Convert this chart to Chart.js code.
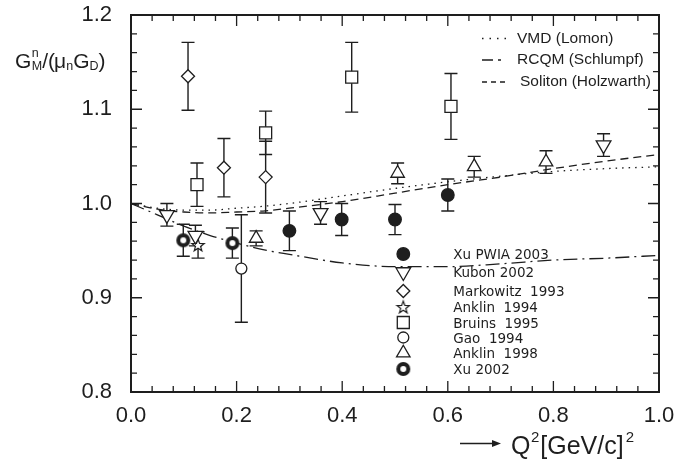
<!DOCTYPE html>
<html>
<head>
<meta charset="utf-8">
<script src="https://cdn.jsdelivr.net/npm/chart.js@4.4.1/dist/chart.umd.min.js"></script>
<style>
  html, body { margin: 0; padding: 0; background: #fff; }
</style>
</head>
<body>
<canvas id="gmnChart" width="693" height="470"></canvas>
<script>
// measured data points: Q^2, value, error
const xuPwiaQ2 = [0.300, 0.399, 0.500, 0.600];
const xuPwiaVal = [0.971, 0.983, 0.983, 1.009];
const xuPwiaErr = [0.021, 0.017, 0.016, 0.017];

const kubonQ2 = [0.068, 0.122, 0.359, 0.895];
const kubonVal = [0.988, 0.966, 0.990, 1.062];
const kubonErr = [0.012, 0.011, 0.012, 0.012];

const markowitzQ2 = [0.108, 0.176, 0.255];
const markowitzVal = [1.135, 1.038, 1.028];
const markowitzErr = [0.036, 0.031, 0.038];

const anklin94Q2 = [0.127];
const anklin94Val = [0.956];
const anklin94Err = [0.014];

const bruinsQ2 = [0.125, 0.255, 0.418, 0.606];
const bruinsVal = [1.020, 1.075, 1.134, 1.103];
const bruinsErr = [0.023, 0.023, 0.037, 0.035];

const gaoQ2 = [0.209];
const gaoVal = [0.931];
const gaoErr = [0.057];

const anklin98Q2 = [0.237, 0.505, 0.650, 0.786];
const anklin98Val = [0.963, 1.032, 1.039, 1.044];
const anklin98Err = [0.008, 0.011, 0.011, 0.012];

const xu02Q2 = [0.099, 0.192];
const xu02Val = [0.961, 0.958];
const xu02Err = [0.017, 0.016];

// theory curves
const curveQ2 = [0, 0.05, 0.1, 0.15, 0.2, 0.25, 0.3, 0.4, 0.5, 0.6, 0.7, 0.8, 0.9, 1.0];
const vmdVal = [1.000, 0.995, 0.993, 0.993, 0.995, 0.997, 1.000, 1.008, 1.016, 1.023, 1.029, 1.034, 1.037, 1.039];
const rcqmVal = [1.000, 0.988, 0.976, 0.966, 0.958, 0.951, 0.946, 0.937, 0.933, 0.933, 0.936, 0.940, 0.942, 0.945];
const solitonVal = [1.000, 0.994, 0.991, 0.990, 0.991, 0.992, 0.995, 1.002, 1.011, 1.020, 1.028, 1.037, 1.045, 1.052];

const xTicks = [0, 0.2, 0.4, 0.6, 0.8, 1.0];
const yTicks = [0.8, 0.9, 1.0, 1.1, 1.2];

const theoryLabels = ["VMD (Lomon)", "RCQM (Schlumpf)", "Soliton (Holzwarth)"];
const dataLabels = ["Xu PWIA 2003", "Kubon 2002", "Markowitz  1993", "Anklin  1994",
  "Bruins  1995", "Gao  1994", "Anklin  1998", "Xu 2002"];

const INK = "#1e1e1e";

function makeStar() {
  const c = document.createElement("canvas");
  c.width = 16; c.height = 16;
  const g = c.getContext("2d");
  g.beginPath();
  for (let k = 0; k < 10; k++) {
    const r = k % 2 === 0 ? 6.5 : 2.7;
    const a = -Math.PI / 2 + k * Math.PI / 5;
    const px = 8 + r * Math.cos(a), py = 8.6 + r * Math.sin(a);
    if (k === 0) g.moveTo(px, py); else g.lineTo(px, py);
  }
  g.closePath();
  g.fillStyle = "#fff"; g.fill();
  g.lineWidth = 1.2; g.strokeStyle = INK; g.stroke();
  return c;
}

function makeRing() {
  const c = document.createElement("canvas");
  c.width = 16; c.height = 16;
  const g = c.getContext("2d");
  g.beginPath(); g.arc(8, 8, 7, 0, 2 * Math.PI); g.fillStyle = INK; g.fill();
  g.beginPath(); g.arc(8, 8, 3, 0, 2 * Math.PI); g.fillStyle = "#fff"; g.fill();
  return c;
}

const starImg = makeStar();
const ringImg = makeRing();

function pts(xs, ys) {
  return xs.map((x, i) => ({ x: x, y: ys[i] }));
}

const series = [
  { label: dataLabels[0], q2: xuPwiaQ2, val: xuPwiaVal, err: xuPwiaErr, style: "circle", radius: 6.3, fill: INK },
  { label: dataLabels[1], q2: kubonQ2, val: kubonVal, err: kubonErr, style: "triangle", rotation: 180, radius: 8.5, fill: "#fff" },
  { label: dataLabels[2], q2: markowitzQ2, val: markowitzVal, err: markowitzErr, style: "rectRot", radius: 6.5, fill: "#fff" },
  { label: dataLabels[3], q2: anklin94Q2, val: anklin94Val, err: anklin94Err, style: starImg, radius: 7, fill: "#fff" },
  { label: dataLabels[4], q2: bruinsQ2, val: bruinsVal, err: bruinsErr, style: "rect", radius: 8.5, fill: "#fff" },
  { label: dataLabels[5], q2: gaoQ2, val: gaoVal, err: gaoErr, style: "circle", radius: 5.5, fill: "#fff" },
  { label: dataLabels[6], q2: anklin98Q2, val: anklin98Val, err: anklin98Err, style: "triangle", radius: 7.8, fill: "#fff" },
  { label: dataLabels[7], q2: xu02Q2, val: xu02Val, err: xu02Err, style: ringImg, radius: 7, fill: INK }
];

const theory = [
  { label: theoryLabels[0], val: vmdVal, dash: [1.5, 5] },
  { label: theoryLabels[1], val: rcqmVal, dash: [14, 5, 2, 5] },
  { label: theoryLabels[2], val: solitonVal, dash: [8, 5] }
];

const datasets = [];
series.forEach(s => {
  datasets.push({
    label: s.label,
    data: pts(s.q2, s.val),
    showLine: false,
    pointStyle: s.style,
    rotation: s.rotation || 0,
    pointRadius: s.radius,
    pointBackgroundColor: s.fill,
    pointBorderColor: INK,
    pointBorderWidth: 1.3,
    order: 1
  });
});
theory.forEach(t => {
  datasets.push({
    label: t.label,
    data: pts(curveQ2, t.val),
    showLine: true,
    borderColor: INK,
    borderWidth: 1.3,
    borderDash: t.dash,
    cubicInterpolationMode: "monotone",
    pointRadius: 0,
    fill: false,
    order: 5
  });
});

function drawRich(ctx, parts, x, base) {
  parts.forEach(p => {
    ctx.font = p.font;
    ctx.fillText(p.t, x, base + (p.dy || 0));
    if (!p.stack) x += ctx.measureText(p.t).width + (p.gap || 0);
  });
  return x;
}

const decor = {
  id: "decor",
  beforeDatasetsDraw(chart) {
    const { ctx, scales: { x, y } } = chart;
    ctx.save();
    ctx.strokeStyle = INK;
    ctx.lineWidth = 1.4;
    series.forEach(s => {
      s.q2.forEach((q, i) => {
        const px = x.getPixelForValue(q);
        const top = y.getPixelForValue(s.val[i] + s.err[i]);
        const bot = y.getPixelForValue(s.val[i] - s.err[i]);
        ctx.beginPath();
        ctx.moveTo(px, top); ctx.lineTo(px, bot);
        ctx.moveTo(px - 6.5, top); ctx.lineTo(px + 6.5, top);
        ctx.moveTo(px - 6.5, bot); ctx.lineTo(px + 6.5, bot);
        ctx.stroke();
      });
    });
    ctx.restore();
  },
  afterDraw(chart) {
    const { ctx, chartArea: a, scales: { x, y } } = chart;
    ctx.save();
    ctx.strokeStyle = INK;
    ctx.fillStyle = INK;

    // frame
    ctx.lineWidth = 2;
    ctx.strokeRect(a.left, a.top, a.right - a.left, a.bottom - a.top);

    // inward ticks on all sides
    ctx.lineWidth = 1.3;
    ctx.beginPath();
    for (let k = 0; k <= 20; k++) {
      const py = y.getPixelForValue(0.8 + k * 0.02);
      const len = k % 5 === 0 ? 11 : 6;
      ctx.moveTo(a.left, py); ctx.lineTo(a.left + len, py);
      ctx.moveTo(a.right, py); ctx.lineTo(a.right - len, py);
    }
    for (let k = 0; k <= 25; k++) {
      const px = x.getPixelForValue(k * 0.04);
      const len = k % 5 === 0 ? 11 : 6;
      ctx.moveTo(px, a.bottom); ctx.lineTo(px, a.bottom - len);
      ctx.moveTo(px, a.top); ctx.lineTo(px, a.top + len);
    }
    ctx.stroke();

    // y axis title
    ctx.textBaseline = "alphabetic";
    ctx.textAlign = "left";
    const big = "21px 'Liberation Sans'";
    const sm = "12.5px 'Liberation Sans'";
    drawRich(ctx, [
      { t: "G", font: big, gap: 0.5 },
      { t: "n", font: sm, dy: -11, stack: true },
      { t: "M", font: sm, dy: 2 },
      { t: "/(", font: big, gap: -1 },
      { t: "\u03bc", font: big },
      { t: "n", font: sm, dy: 2 },
      { t: "G", font: big },
      { t: "D", font: sm, dy: 2 },
      { t: ")", font: big }
    ], 15, 68);

    // x axis title with arrow
    ctx.lineWidth = 1.3;
    ctx.beginPath();
    ctx.moveTo(460, 443.5); ctx.lineTo(496, 443.5);
    ctx.stroke();
    ctx.beginPath();
    ctx.moveTo(501, 443.5); ctx.lineTo(492, 440); ctx.lineTo(492, 447); ctx.closePath();
    ctx.fill();
    const xt = "25px 'Liberation Sans'";
    const xs = "15px 'Liberation Sans'";
    drawRich(ctx, [
      { t: "Q", font: xt, gap: 0.5 },
      { t: "2", font: xs, dy: -12, gap: 1 },
      { t: "[GeV/c]", font: xt, gap: 2 },
      { t: "2", font: xs, dy: -12 }
    ], 511, 454);

    // theory legend (top right)
    ctx.font = "15.5px 'Liberation Sans'";
    ctx.textBaseline = "middle";
    const rowsT = [38.5, 60, 82];
    const textX = [517, 517, 520];
    theory.forEach((t, i) => {
      ctx.save();
      ctx.lineWidth = 1.3;
      ctx.setLineDash(i === 1 ? [11, 5, 3, 5] : (i === 0 ? [1.5, 6] : [5, 4]));
      ctx.beginPath();
      ctx.moveTo(482, rowsT[i]); ctx.lineTo(506, rowsT[i]);
      ctx.stroke();
      ctx.restore();
      ctx.fillText(t.label, textX[i], rowsT[i]);
    });

    // data legend (inside plot)
    const rowsD = [254, 272, 291, 307, 322.5, 337.5, 353, 369];
    const mx = 403.3;
    series.forEach((s, i) => {
      ctx.save();
      ctx.fillStyle = s.fill;
      ctx.strokeStyle = INK;
      ctx.lineWidth = 1.3;
      Chart.helpers.drawPoint(ctx, {
        pointStyle: s.style,
        rotation: s.rotation || 0,
        radius: s.radius,
        borderWidth: 1.3
      }, mx, rowsD[i]);
      ctx.restore();
    });
    ctx.font = "13.5px 'DejaVu Sans'";
    ctx.fillStyle = INK;
    dataLabels.forEach((t, i) => {
      ctx.fillText(t, 453.3, rowsD[i] + 1.5);
    });
    ctx.restore();
  }
};

const tickFont = { family: "Liberation Sans", size: 22 };

new Chart(document.getElementById("gmnChart"), {
  type: "scatter",
  data: { datasets: datasets },
  options: {
    responsive: false,
    animation: false,
    devicePixelRatio: 1,
    events: [],
    layout: { padding: { top: 15, right: 34, left: 0, bottom: 0 } },
    plugins: {
      legend: { display: false },
      tooltip: { enabled: false }
    },
    scales: {
      x: {
        type: "linear",
        min: 0,
        max: 1,
        grid: { display: false, drawTicks: false },
        border: { display: false },
        afterBuildTicks: s => { s.ticks = xTicks.map(v => ({ value: v })); },
        afterFit: s => { s.height = 78; s.paddingLeft = 0; s.paddingRight = 0; },
        ticks: {
          padding: 11,
          maxRotation: 0,
          color: INK,
          font: tickFont,
          callback: v => v.toFixed(1)
        }
      },
      y: {
        type: "linear",
        min: 0.8,
        max: 1.2,
        grid: { display: false, drawTicks: false },
        border: { display: false },
        afterBuildTicks: s => { s.ticks = yTicks.map(v => ({ value: v })); },
        afterFit: s => { s.width = 131; s.paddingTop = 0; s.paddingBottom = 0; },
        ticks: {
          padding: 19,
          color: INK,
          font: tickFont,
          callback: v => v.toFixed(1)
        }
      }
    }
  },
  plugins: [decor]
});
</script>
</body>
</html>
